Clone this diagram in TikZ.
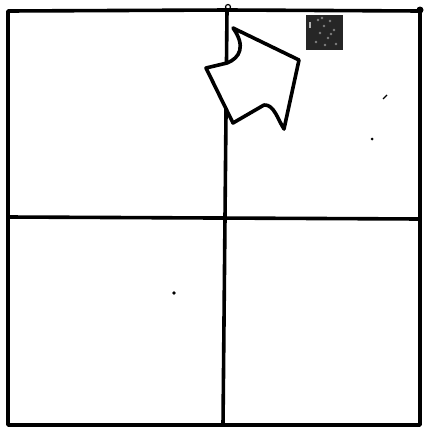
\documentclass[tikz,border=0pt]{standalone}
\begin{document}
\begin{tikzpicture}[x=1pt,y=-1pt,
  ink/.style={line width=3.6pt,line cap=round,line join=round,black}]
\useasboundingbox (0,0) rectangle (428,431);
\fill[white] (0,0) rectangle (428,431);
% outer frame
\draw[ink] (8,11) -- (228,10) -- (420,11) -- (420,425) -- (8,425) -- cycle;
% middle lines
\draw[ink] (8,217) -- (420,219);
\draw[ink] (227,10) -- (223,425);
\draw[line width=1.2pt] (228,7) circle (2.5);
\fill (420,10) circle (3.5);
% dark square
\fill[black!85] (306,15) rectangle (343,50);
\fill[white!70!black] (309,22) rectangle (311,28);
\foreach \p in {(318,20),(324,26),(330,21),(320,33),(328,38),(334,30),(316,42),(325,45),(336,44),(322,18),(331,34)}
  \fill[white!50!black] \p circle (1.4);
% arrow shape
\filldraw[ink,fill=white] (233,28) -- (299,60) -- (284,129)
  .. controls (278,120) and (274,104) .. (264,105)
  -- (233,123) -- (206,68) -- (227,63)
  .. controls (240,58) and (246,46) .. (233,28) -- cycle;
% stray dots
\fill (372,139) circle (1.5);
\fill (174,293) circle (1.8);
\draw[line width=1.2pt] (383,99) -- (387,95);
\end{tikzpicture}
\end{document}
